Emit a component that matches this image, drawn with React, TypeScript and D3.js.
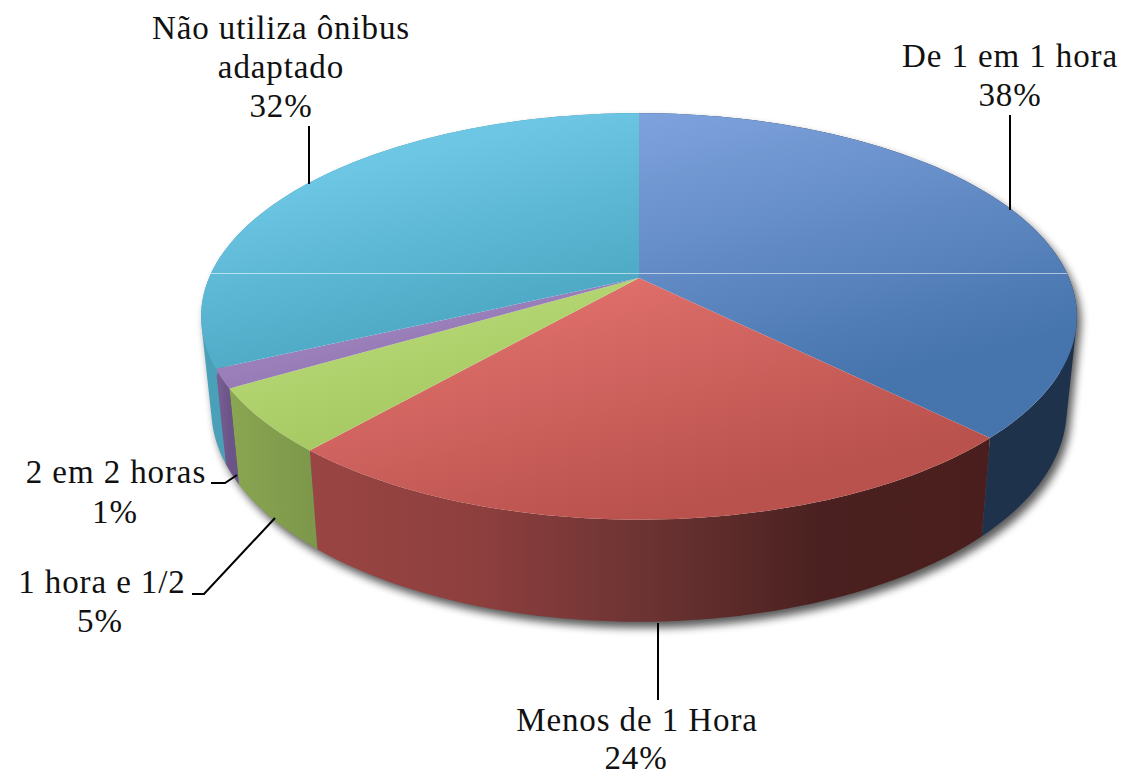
import * as d3 from "d3";

const categories = ["De 1 em 1 hora", "Menos de 1 Hora", "1 hora e 1/2", "2 em 2 horas", "Não utiliza ônibus adaptado"];
// slice sizes as measured on the drawing (labels are rounded)
const values = [37.5, 23.9, 5.1, 1.5, 32];
const percentLabels = ["38%", "24%", "5%", "1%", "32%"];

const topColors = [
  ["#82a5e0", "#4674ad"],
  ["#e0706c", "#b9514c"],
  ["#b4d672", "#9dbf58"],
  ["#9a7fba", "#8462a6"],
  ["#6cc6e4", "#3f9bb6"],
];
const wallColors = [
  ["#233a57", "#1f324c"],
  ["#9a4543", "#8d3f3e", "#6b3332", "#4a2120", "#4a1e1c"],
  ["#8aa652", "#7d984a"],
  ["#7a6096", "#6b5488"],
  ["#4ba0b9", "#3b8ba4"],
];

// perspective of the disc
const persp = -0.189;
const topDisc = { cx: 639, cy: 278, rx: 430, ry: 196 };
const lowDisc = { cx: 639, cy: 369, rx: 420, ry: 205 };

const project = (disc: typeof topDisc, a: number): [number, number] => {
  const x = Math.sin(a);
  const y = -Math.cos(a);
  const d = 1 + persp * y;
  return [disc.cx + (disc.rx * x) / d, disc.cy + (disc.ry * y) / d];
};

const samples = (a0: number, a1: number) => {
  const n = Math.max(2, Math.ceil((a1 - a0) * 40));
  return d3.range(0, n + 1).map((i) => a0 + ((a1 - a0) * i) / n);
};
const line = d3.line();

const arcs = d3.pie<number>().sort(null)(values);

const topPoints = (a0: number, a1: number): [number, number][] => [
  [topDisc.cx, topDisc.cy],
  ...samples(a0, a1).map((a) => project(topDisc, a)),
];
const topPath = (a0: number, a1: number) => line(topPoints(a0, a1))! + "Z";
// wall = one quad per step, all turned the same way so they don't cancel where the wall folds at the sides
const wallPath = (a0: number, a1: number) =>
  d3.pairs(samples(a0, a1))
    .map(([p, q]) => {
      const quad = [project(topDisc, p), project(topDisc, q), project(lowDisc, q), project(lowDisc, p)];
      if (d3.polygonArea(quad) < 0) quad.reverse();
      return line(quad)! + "Z";
    })
    .join("");
const discPath = (disc: typeof topDisc) => line(samples(0, 2 * Math.PI).map((a) => project(disc, a)))! + "Z";

// label lines: [text, center x, baseline y]
const labelRows: [string, number, number][] = [
  ["Não utiliza ônibus", 281, 39],
  ["adaptado", 281, 78],
  [percentLabels[4], 281, 117],
  [categories[0], 1010, 67],
  [percentLabels[0], 1010, 106],
  [categories[1], 637, 731],
  [percentLabels[1], 636, 769],
  [categories[3], 116, 483],
  [percentLabels[3], 115, 523],
  [categories[2], 102, 593],
  [percentLabels[2], 100, 632],
];

const leaders: [number, number][][] = [
  [[309, 126], [309, 184]],
  [[1010, 115], [1010, 210]],
  [[658, 623], [658, 700]],
  [[211, 483], [225, 483], [237, 475]],
  [[192, 594], [204, 594], [275, 518]],
];

export default function App() {
  return (
    <svg width={1122} height={773} style={{ position: "absolute", left: 0, top: 0, background: "#fff" }}>
      <defs>
        <filter id="blur" x="-10%" y="-10%" width="120%" height="120%">
          <feGaussianBlur stdDeviation={4} />
        </filter>
        <clipPath id="topClip">
          <path d={discPath(topDisc)} />
        </clipPath>
        {topColors.map((c, i) => {
          const [y0, y1] = d3.extent(topPoints(arcs[i].startAngle, arcs[i].endAngle), (p) => p[1]);
          return (
            <linearGradient key={i} id={`top${i}`} gradientUnits="userSpaceOnUse" x1={639 - (y1! - y0!) * 0.25} y1={y0} x2={639} y2={y1}>
              <stop offset="0" stopColor={c[0]} />
              <stop offset="1" stopColor={c[1]} />
            </linearGradient>
          );
        })}
        {wallColors.map((c, i) => {
          const xs = [project(topDisc, arcs[i].startAngle)[0], project(topDisc, arcs[i].endAngle)[0]];
          return (
            <linearGradient key={i} id={`wall${i}`} gradientUnits="userSpaceOnUse" x1={d3.min(xs)} y1={0} x2={d3.max(xs)} y2={0}>
              {c.map((col, j) => (
                <stop key={j} offset={j / (c.length - 1)} stopColor={col} />
              ))}
            </linearGradient>
          );
        })}
      </defs>

      <path d={wallPath(0, 2 * Math.PI)} transform="translate(4,6)" fill="#000" opacity={0.65} filter="url(#blur)" />

      {arcs.map((d, i) => (
        <path key={i} d={wallPath(d.startAngle, d.endAngle)} fill={`url(#wall${i})`} />
      ))}
      {arcs.map((d, i) => (
        <path key={i} d={topPath(d.startAngle, d.endAngle)} fill={`url(#top${i})`} />
      ))}

      <line x1={190} x2={1090} y1={273.5} y2={273.5} stroke="#fff" strokeOpacity={0.55} clipPath="url(#topClip)" />

      {leaders.map((pts, i) => (
        <path key={i} d={line(pts)!} fill="none" stroke="#000" strokeWidth={2} />
      ))}

      {labelRows.map(([t, x, y], i) => (
        <text key={i} x={x} y={y} textAnchor="middle" fontFamily="'Liberation Serif', serif" fontSize={33} letterSpacing={0.9} fill="#111">
          {t}
        </text>
      ))}
    </svg>
  );
}
